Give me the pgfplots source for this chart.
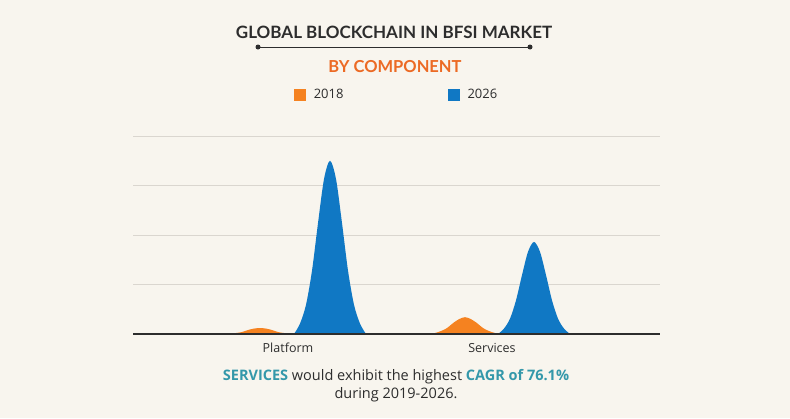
\documentclass[border=0pt]{standalone}
\usepackage{fontspec}
\setmainfont{Open Sans}
\newfontfamily\titlefont{Lato}
\usepackage{pgfplots}
\pgfplotsset{compat=1.18}
\usepackage{pgfplotstable}
\usetikzlibrary{backgrounds}

\definecolor{bgc}{RGB}{248,245,238}
\definecolor{orng}{RGB}{245,130,32}
\definecolor{blu}{RGB}{16,120,196}
\definecolor{ttl}{RGB}{45,45,45}
\definecolor{subc}{RGB}{236,106,36}
\definecolor{tealc}{RGB}{52,152,170}
\definecolor{gridc}{RGB}{218,214,207}

% Platform 2018
\pgfplotstableread{
x y
224 0
230 0.01
236 0.02
242 0.04
248 0.08
254 0.11
260 0.12
266 0.11
272 0.08
278 0.04
284 0.02
290 0.01
296 0
}\platA
% Services 2018
\pgfplotstableread{
x y
429 0
435 0.02
441 0.06
447 0.12
453 0.22
459 0.30
465 0.34
471 0.30
477 0.22
483 0.12
489 0.06
495 0.02
501 0
}\servA
% Platform 2026
\pgfplotstableread{
x y
294 0
300 0.21
306 0.59
312 1.28
318 2.24
324 3.13
330 3.50
336 3.13
342 2.24
348 1.28
354 0.59
360 0.21
366 0
}\platB
% Services 2026
\pgfplotstableread{
x y
498 0
504 0.11
510 0.31
516 0.68
522 1.19
528 1.66
534 1.86
540 1.66
546 1.19
552 0.68
558 0.31
564 0.11
570 0
}\servB

\begin{document}
\begin{tikzpicture}[x=1bp,y=1bp]
\begin{axis}[
    name=ax,
    scale only axis, width=527bp, height=200bp,
    xmin=133, xmax=660, ymin=-0.04, ymax=4,
    axis line style={draw=none},
    ytick={1,2,3,4}, yticklabels={},
    ymajorgrids, grid style={gridc, line width=0.9bp},
    major tick length=0,
    xtick={288,492}, xticklabels={Platform,Services},
    xticklabel style={anchor=base, yshift=-17bp, font=\fontsize{12.5bp}{15bp}\selectfont, text=ttl},
    legend columns=2,
    legend image code/.code={\fill[#1, draw=none] (0bp,-6bp) rectangle (12bp,6bp);},
    legend style={at={(0.5,1.205)}, anchor=center, draw=none, fill=none,
        font=\fontsize{13bp}{15bp}\selectfont, text=ttl,
        /tikz/every odd column/.append style={column sep=6bp},
        /tikz/every even column/.append style={column sep=102bp}},
]
\addplot[fill=orng, draw=none, smooth] table {\platA};
\addplot[fill=orng, draw=none, smooth, forget plot] table {\servA};
\addplot[fill=blu, draw=none, smooth] table {\platB};
\addplot[fill=blu, draw=none, smooth, forget plot] table {\servB};
\addplot[ttl, line width=2bp, forget plot] coordinates {(133,0) (660,0)};
\legend{2018,2026}
\coordinate (o) at (axis cs:133,0);
\end{axis}
\begin{scope}[shift={(o)}, xshift=-133bp, yshift=-84bp]
\begin{pgfonlayer}{background}
\fill[bgc] (0,0) rectangle (790,418);
\end{pgfonlayer}
\node[anchor=base, text=ttl, font=\titlefont\bfseries\fontsize{17bp}{20bp}\selectfont] at (394,379.7) {GLOBAL BLOCKCHAIN IN BFSI MARKET};
\draw[ttl, line width=1bp] (258,371) -- (530,371);
\fill[ttl] (258,371) circle (2.5bp) (530,371) circle (2.5bp);
\node[anchor=base, text=subc, font=\titlefont\bfseries\fontsize{16.5bp}{20bp}\selectfont] at (395,346) {BY COMPONENT};
\node[anchor=base, text=ttl, font=\fontsize{14.5bp}{17bp}\selectfont] at (396,38) {\textbf{\textcolor{tealc}{SERVICES}} would exhibit the highest \textbf{\textcolor{tealc}{CAGR of 76.1\%}}};
\node[anchor=base, text=ttl, font=\fontsize{14.5bp}{17bp}\selectfont] at (396,20) {during 2019-2026.};
\end{scope}
\end{tikzpicture}
\end{document}
